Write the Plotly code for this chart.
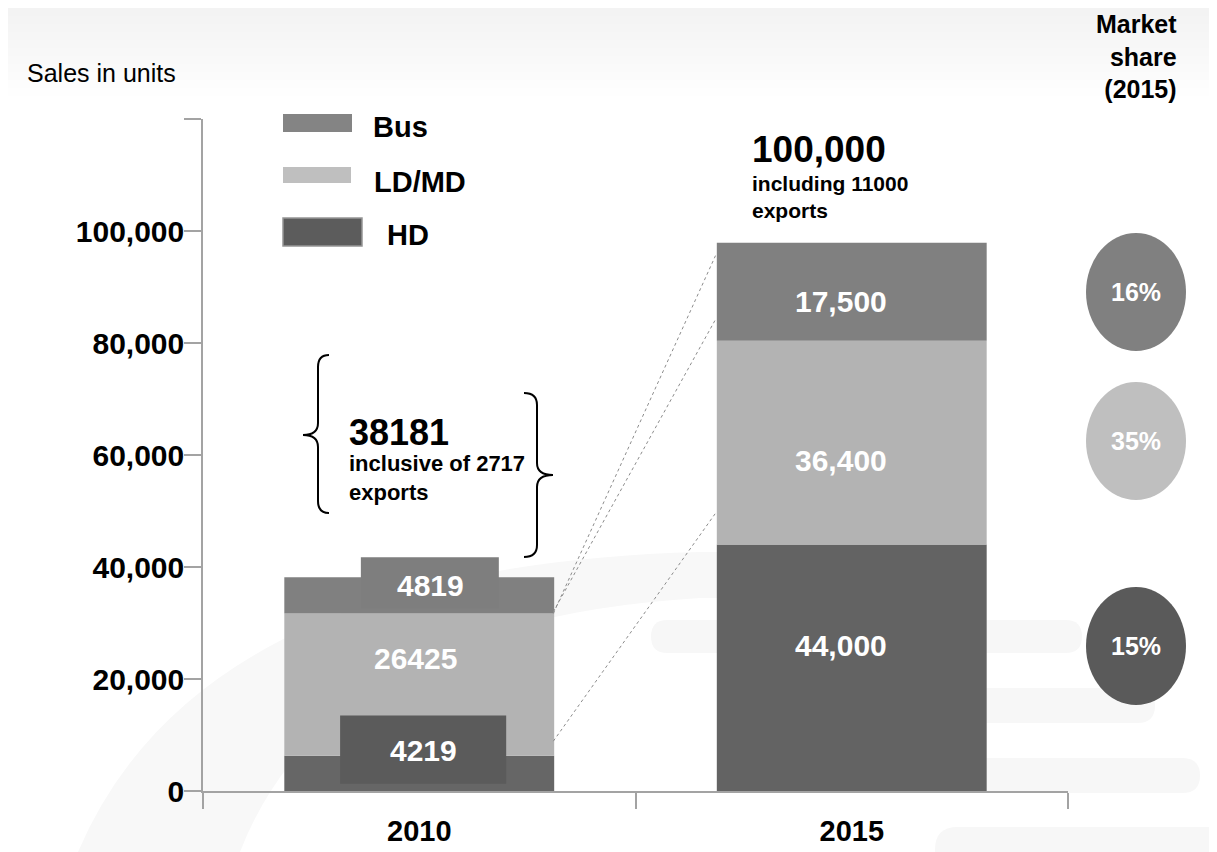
import plotly.graph_objects as go
import numpy as np

# ---------------- data ----------------
categories = ["2010", "2015"]
hd_units = [6300, 44000]        # drawn segment heights
ld_units = [25400, 36400]
bus_units = [6481, 17500]
hd_labels = ["4219", "44,000"]
ld_labels = ["26425", "36,400"]
bus_labels = ["4819", "17,500"]
total_labels = ["38181", "100,000"]
export_notes = ["inclusive of 2717<br>exports", "including 11000<br>exports"]
share_segments = ["Bus", "LD/MD", "HD"]
market_share_2015 = [16, 35, 15]
hd_box_2010 = [1300, 13500]      # base, top of highlighted HD box (2010)
bus_box_2010 = [32600, 41750]    # base, top of highlighted Bus box (2010)
connector_from = [31700, 32000, 8900]
connector_to = [95600, 84200, 49600]
y_ticks = [0, 20000, 40000, 60000, 80000, 100000, 120000]
y_tick_labels = ["0", "20,000", "40,000", "60,000", "80,000", "100,000", ""]

# ---------------- style ----------------
FONT = "Liberation Sans, Arial, sans-serif"
C_BUS, C_LD, C_HD = "#808080", "#b3b3b3", "#646464"
AXC = "#a3a3a3"
PAGE_W, PAGE_H = 1217, 852
OFF = 8                      # default page body margin
L, R, T, B = 203, 1068, 119, 791   # plot area in page pixels


def px(x):
    return (x - L) / (R - L)


def py(y):
    return (B - y) / (B - T)


def P(x, y):
    return f"{px(x):.5f} {py(y):.5f}"


hd_arr = np.array(hd_units)
ld_arr = np.array(ld_units)
bus_arr = np.array(bus_units)
bar_w = 0.624

fig = go.Figure()
fig.add_trace(go.Bar(x=categories, y=hd_units, base=[0, 0], width=bar_w,
                     marker=dict(color=["#666666", "#636363"], line_width=0), hoverinfo="skip"))
fig.add_trace(go.Bar(x=categories, y=ld_units, base=hd_arr.tolist(), width=bar_w,
                     marker=dict(color=C_LD, line_width=0), hoverinfo="skip"))
fig.add_trace(go.Bar(x=categories, y=bus_units, base=(hd_arr + ld_arr).tolist(), width=bar_w,
                     marker=dict(color=C_BUS, line_width=0), hoverinfo="skip"))
# highlighted boxes on 2010 bar
fig.add_trace(go.Bar(x=[categories[0]], y=[hd_box_2010[1] - hd_box_2010[0]], base=[hd_box_2010[0]],
                     width=0.384, offset=-0.183, marker=dict(color="#5b5b5b", line_width=0),
                     hoverinfo="skip"))
fig.add_trace(go.Bar(x=[categories[0]], y=[bus_box_2010[1] - bus_box_2010[0]], base=[bus_box_2010[0]],
                     width=0.319, offset=-0.135, marker=dict(color="#7e7e7e", line_width=0),
                     hoverinfo="skip"))

ann = []
# segment labels
seg_pos = {
    "bus": ([0.025, 0.975], [36730, 87375], bus_labels),
    "ld": ([-0.009, 0.975], [23700, 58980], ld_labels),
    "hd": ([0.009, 0.975], [7270, 25930], hd_labels),
}
for k, (xs, ys, labs) in seg_pos.items():
    for xv, yv, t in zip(xs, ys, labs):
        ann.append(dict(x=xv, y=yv, xref="x", yref="y", xanchor="center", yanchor="middle",
                        text=f"<b>{t}</b>", showarrow=False,
                        font=dict(family=FONT, size=30, color="white")))

# totals + notes
tot_x = [-0.167, 0.765]
tot_y = [64055, 114590]
note_y = [55950, 106110]
tot_size = [36, 37]
note_size = [22, 21]
for i in range(2):
    ann.append(dict(x=tot_x[i], y=tot_y[i], xref="x", yref="y", xanchor="left", yanchor="middle",
                    text=f"<b>{total_labels[i]}</b>", showarrow=False,
                    font=dict(family=FONT, size=tot_size[i], color="black")))
    ann.append(dict(x=tot_x[i], y=note_y[i], xref="x", yref="y", xanchor="left", yanchor="middle",
                    align="left", text=f"<b>{export_notes[i]}</b>", showarrow=False,
                    font=dict(family=FONT, size=note_size[i], color="black")))

# axis title & market share header
ann.append(dict(x=px(25), y=py(73), xref="paper", yref="paper", xanchor="left", yanchor="middle",
                text="Sales in units", showarrow=False,
                font=dict(family=FONT, size=25, color="black")))
ann.append(dict(x=px(1179), y=py(56), xref="paper", yref="paper", xanchor="right", yanchor="middle",
                align="right", text="<b>Market<br>share<br>(2015)</b>", showarrow=False,
                font=dict(family=FONT, size=25, color="black")))

shapes = []
# top gradient background
for i in range(12):
    g = int(242 + i * 1.1)
    shapes.append(dict(type="rect", xref="paper", yref="paper", layer="below",
                       x0=px(0), x1=px(PAGE_W + 10), y0=py((i + 1) * 8), y1=py(i * 8 - (8 if i == 0 else 0)),
                       fillcolor=f"rgb({g},{g},{g})", line_width=0))
# faint watermark swoosh
shapes.append(dict(type="path", xref="paper", yref="paper", layer="below",
                   path=f"M {P(78, 852)} Q {P(200, 565)} {P(700, 552)} L {P(720, 552)} L {P(720, 598)} "
                        f"L {P(700, 598)} Q {P(330, 620)} {P(240, 852)} Z",
                   fillcolor="#f8f8f8", line_width=0))
for (x0, y0, x1, y1) in [(651, 620, 1082, 653), (930, 688, 1155, 723), (930, 758, 1200, 793),
                         (935, 827, 1260, 872)]:
    r = (y1 - y0) / 2
    ym = (y0 + y1) / 2
    shapes.append(dict(type="path", xref="paper", yref="paper", layer="below",
                       path=f"M {P(x0 + r, y0)} L {P(x1 - r, y0)} Q {P(x1, y0)} {P(x1, ym)} "
                            f"Q {P(x1, y1)} {P(x1 - r, y1)} L {P(x0 + r, y1)} Q {P(x0, y1)} {P(x0, ym)} "
                            f"Q {P(x0, y0)} {P(x0 + r, y0)} Z",
                       fillcolor="#f7f7f7", line_width=0))

# legend swatches
legend_boxes = [(283, 114, 352, 132, "#848484", None), (283, 167, 351, 183, "#bfbfbf", None),
                (283, 218, 362, 246, "#5c5c5c", "#959595")]
legend_text = [(371, 127), (372, 182), (385, 235)]
for (x0, y0, x1, y1, c, lc), name, (tx, ty) in zip(legend_boxes, share_segments, legend_text):
    shapes.append(dict(type="rect", xref="paper", yref="paper", x0=px(x0), x1=px(x1),
                       y0=py(y1), y1=py(y0), fillcolor=c,
                       line=dict(color=lc or c, width=1.5 if lc else 0)))
    ann.append(dict(x=px(tx), y=py(ty), xref="paper", yref="paper", xanchor="left", yanchor="middle",
                    text=f"<b>{name}</b>", showarrow=False,
                    font=dict(family=FONT, size=29, color="black")))

# market share ellipses
ell_cy = [292, 441, 646]
ell_col = ["#808080", "#bfbfbf", "#5a5a5a"]
for cy, c, v in zip(ell_cy, ell_col, market_share_2015):
    shapes.append(dict(type="circle", xref="paper", yref="paper", x0=px(1086), x1=px(1186),
                       y0=py(cy + 59), y1=py(cy - 59), fillcolor=c, line_width=0))
    ann.append(dict(x=px(1136), y=py(cy), xref="paper", yref="paper", xanchor="center",
                    yanchor="middle", text=f"<b>{v}%</b>",
                    showarrow=False, font=dict(family=FONT, size=25, color="white")))

# braces
shapes.append(dict(type="path", xref="paper", yref="paper",
                   path=f"M {P(329, 355)} Q {P(318, 355)} {P(318, 367)} L {P(318, 423)} "
                        f"Q {P(318, 435)} {P(303, 435)} Q {P(318, 435)} {P(318, 447)} L {P(318, 501)} "
                        f"Q {P(318, 513)} {P(329, 513)}",
                   line=dict(color="black", width=2)))
shapes.append(dict(type="path", xref="paper", yref="paper",
                   path=f"M {P(524, 393)} Q {P(537, 393)} {P(537, 405)} L {P(537, 463)} "
                        f"Q {P(537, 475)} {P(553, 475)} Q {P(537, 475)} {P(537, 487)} L {P(537, 545)} "
                        f"Q {P(537, 557)} {P(524, 557)}",
                   line=dict(color="black", width=2)))

# dotted connectors
for y0, y1 in zip(connector_from, connector_to):
    shapes.append(dict(type="line", xref="x", yref="y", x0=0.31, x1=0.685, y0=y0, y1=y1,
                       line=dict(color="#8c8c8c", width=1, dash="dot")))

fig.update_layout(
    width=PAGE_W - OFF, height=PAGE_H - OFF, barmode="overlay", showlegend=False,
    margin=dict(l=L - OFF, r=PAGE_W - R, t=T - OFF, b=PAGE_H - B, pad=0, autoexpand=False),
    paper_bgcolor="white", plot_bgcolor="rgba(0,0,0,0)",
    font=dict(family=FONT, color="black"),
    annotations=ann, shapes=shapes,
    xaxis=dict(type="category", range=[-0.5, 1.5], showline=True, linecolor=AXC, linewidth=1.5,
               ticks="outside", tickson="boundaries", ticklen=16, tickwidth=1.5, tickcolor=AXC,
               showgrid=False, zeroline=False, ticklabelstandoff=13, automargin=False,
               tickfont=dict(family=FONT, size=29, color="black", weight="bold")),
    yaxis=dict(range=[0, 120000], tickvals=y_ticks, ticktext=y_tick_labels, showline=True,
               linecolor=AXC, linewidth=1.5, ticks="outside", ticklen=17, tickwidth=1.5,
               tickcolor=AXC, showgrid=False, zeroline=False, ticklabelstandoff=-6,
               automargin=False,
               tickfont=dict(family=FONT, size=30, color="black", weight="bold")),
)

fig.write_html("out.html")
